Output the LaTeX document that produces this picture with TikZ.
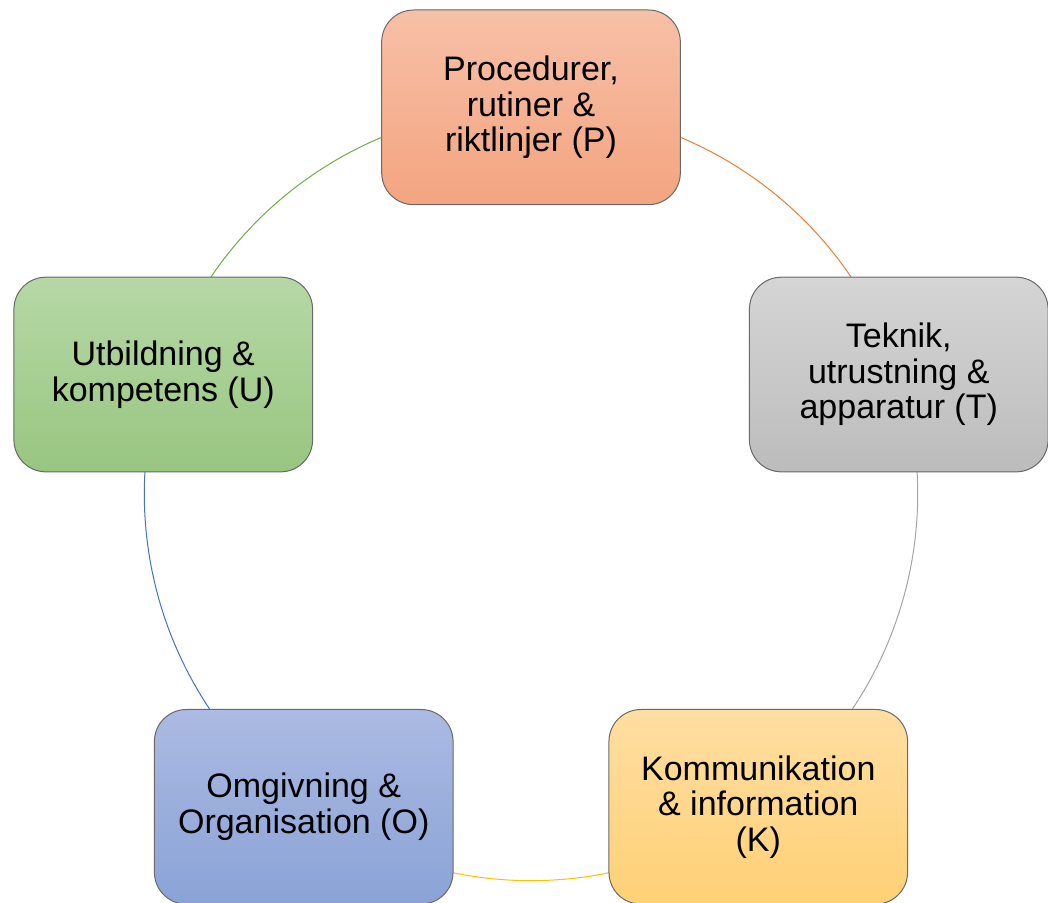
\documentclass[tikz,border=0pt]{standalone}
\usepackage{fontspec}
\setmainfont{Liberation Sans}
\pgfdeclarelayer{background}
\pgfsetlayers{background,main}
% Farben
\definecolor{rim}{RGB}{105,105,105}
\definecolor{pTop}{RGB}{247,192,167}
\definecolor{pBot}{RGB}{244,164,128}
\definecolor{tTop}{RGB}{213,213,213}
\definecolor{tBot}{RGB}{188,188,188}
\definecolor{kTop}{RGB}{255,222,162}
\definecolor{kBot}{RGB}{255,209,118}
\definecolor{oTop}{RGB}{171,186,226}
\definecolor{oBot}{RGB}{138,163,214}
\definecolor{uTop}{RGB}{182,216,166}
\definecolor{uBot}{RGB}{152,198,128}
\definecolor{lOrange}{RGB}{237,125,49}
\definecolor{lGray}{RGB}{165,165,165}
\definecolor{lGold}{RGB}{255,192,0}
\definecolor{lBlue}{RGB}{68,114,196}
\definecolor{lGreen}{RGB}{112,173,71}
\tikzset{
  faktor/.style={draw=rim, line width=0.75pt, rounded corners=24pt,
    minimum width=224pt, minimum height=146pt, inner sep=0pt,
    align=center, font=\fontsize{25.5}{26.7}\selectfont},
  bana/.style={line width=0.75pt}
}
\begin{document}
\begin{tikzpicture}[x=0.75pt,y=0.75pt]
  \useasboundingbox (0,0) rectangle (1048,-902);
  % Mittelpunkt des Kreises
  \coordinate (ctr) at (531,-494);
  % Kästen
  \node[faktor, top color=pTop, bottom color=pBot] (P) at ([shift={(90:290pt)}]ctr)
    {Procedurer,\\rutiner \&\\riktlinjer (P)};
  \node[faktor, top color=tTop, bottom color=tBot] (T) at ([shift={(18:290pt)}]ctr)
    {Teknik,\\utrustning \&\\apparatur (T)};
  \node[faktor, top color=kTop, bottom color=kBot] (K) at ([shift={(-54:290pt)}]ctr)
    {Kommunikation\\\& information\\(K)};
  \node[faktor, top color=oTop, bottom color=oBot] (O) at ([shift={(-126:290pt)}]ctr)
    {Omgivning \&\\Organisation (O)};
  \node[faktor, top color=uTop, bottom color=uBot] (U) at ([shift={(162:290pt)}]ctr)
    {Utbildning \&\\kompetens (U)};
  % Kreisbögen hinter den Kästen
  \begin{pgfonlayer}{background}
    \draw[bana, lOrange] (P.center) arc[start angle=90, end angle=18, radius=290pt];
    \draw[bana, lGray] (T.center) arc[start angle=18, end angle=-54, radius=290pt];
    \draw[bana, lGold] (K.center) arc[start angle=-54, end angle=-126, radius=290pt];
    \draw[bana, lBlue] (O.center) arc[start angle=-126, end angle=-198, radius=290pt];
    \draw[bana, lGreen] (U.center) arc[start angle=162, end angle=90, radius=290pt];
  \end{pgfonlayer}
\end{tikzpicture}
\end{document}
